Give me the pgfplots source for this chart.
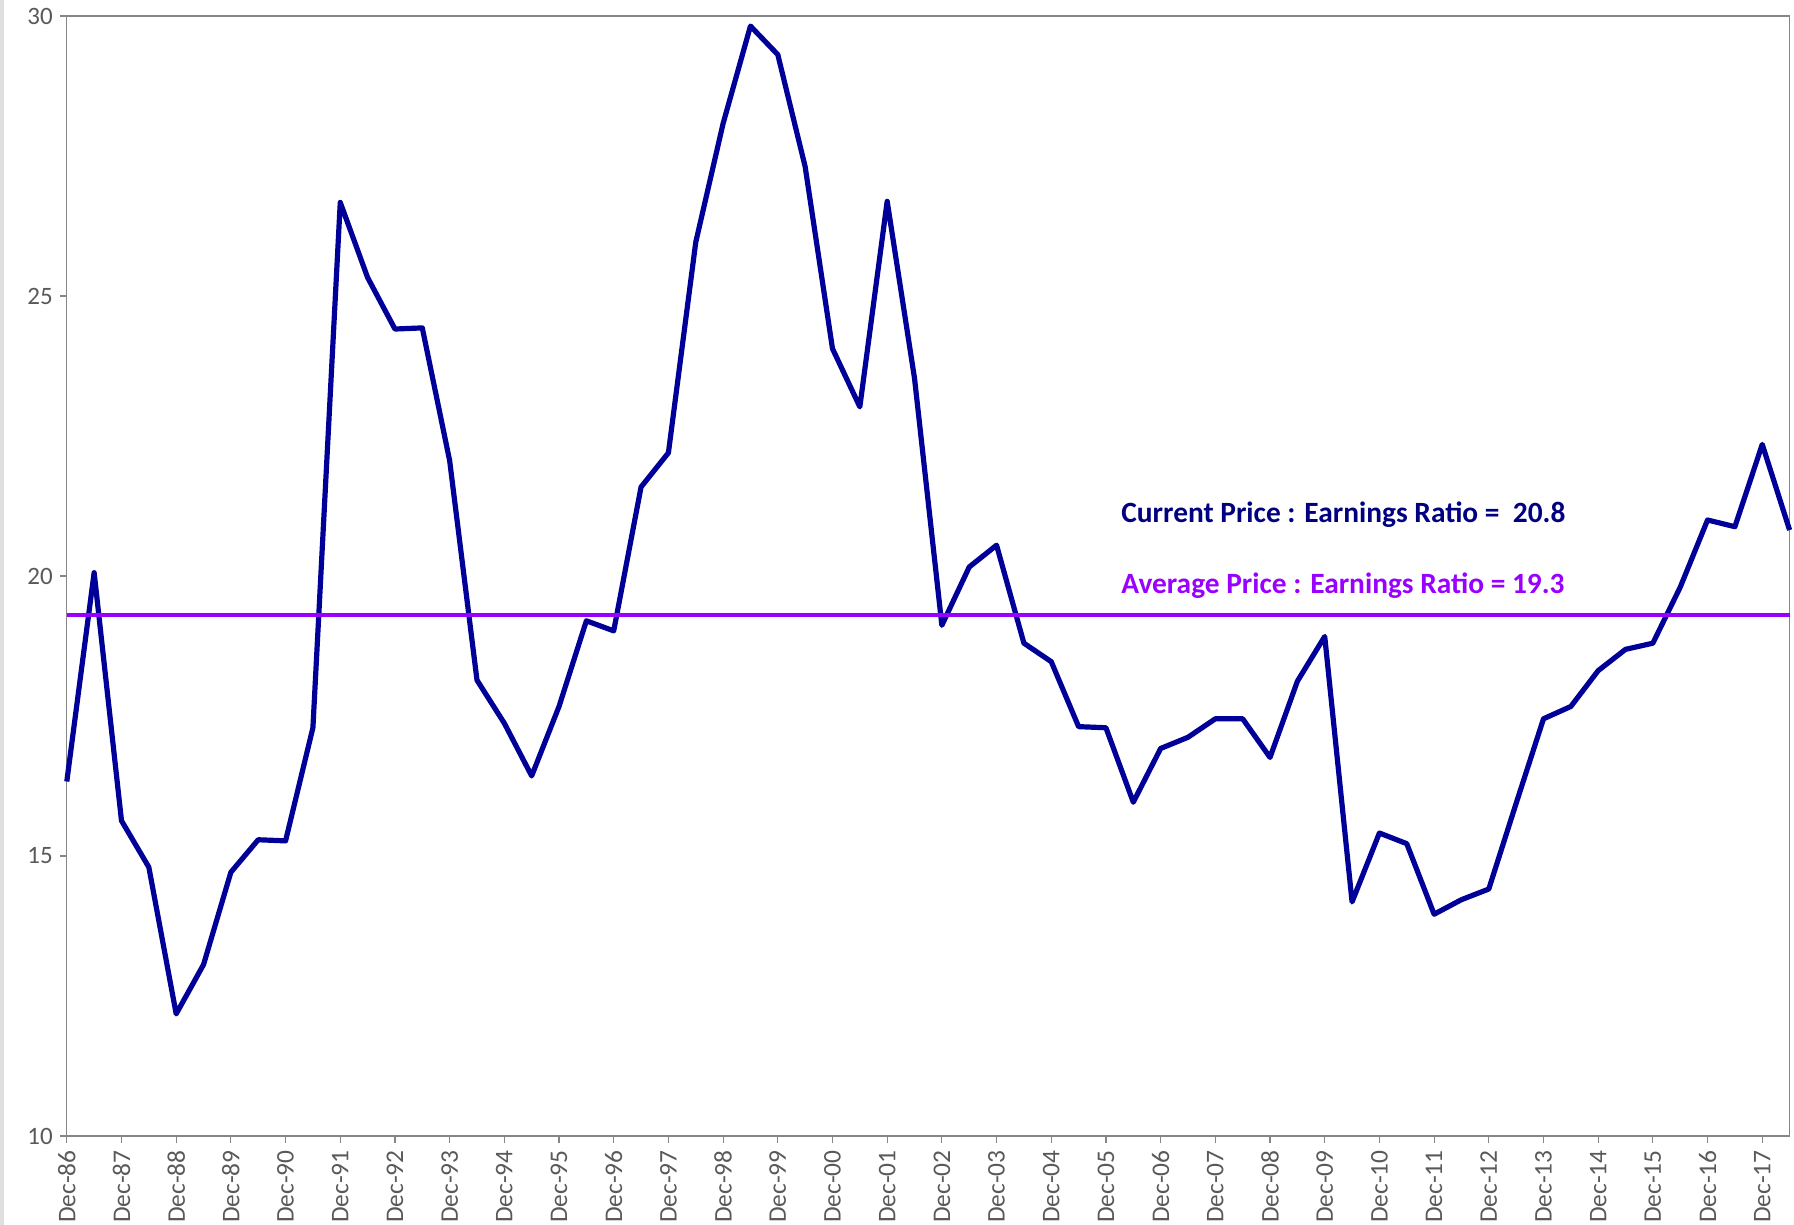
\documentclass[border=0pt]{standalone}
\usepackage{pgfplots}
\pgfplotsset{compat=1.18}
\usepackage{fontspec}
\setmainfont{Carlito}
\definecolor{pelin}{HTML}{000099}
\definecolor{avgln}{HTML}{9900FF}
\definecolor{curtx}{HTML}{000080}
\definecolor{axgray}{HTML}{868686}
\definecolor{lblgray}{HTML}{595959}
\begin{document}
\begin{tikzpicture}
\begin{axis}[
  at={(33.4pt,44.5pt)}, anchor=south west,
  scale only axis, width=861.4pt, height=560pt,
  xmin=0, xmax=63, ymin=10, ymax=30,
  xtick={0,2,...,62},
  xticklabels={Dec-86,Dec-87,Dec-88,Dec-89,Dec-90,Dec-91,Dec-92,Dec-93,Dec-94,Dec-95,Dec-96,Dec-97,Dec-98,Dec-99,Dec-00,Dec-01,Dec-02,Dec-03,Dec-04,Dec-05,Dec-06,Dec-07,Dec-08,Dec-09,Dec-10,Dec-11,Dec-12,Dec-13,Dec-14,Dec-15,Dec-16,Dec-17},
  ytick={10,15,20,25,30},
  xtick pos=left, ytick pos=left,
  tick align=outside, major tick length=3.5pt,
  axis line style={axgray, line width=0.6pt},
  every tick/.style={axgray, line width=0.6pt},
  x tick label style={rotate=90, anchor=east, font=\fontsize{12.7}{12.7}\selectfont, text=lblgray, inner sep=3.5pt},
  y tick label style={font=\fontsize{12.5}{12.5}\selectfont, text=lblgray},
  /pgf/number format/assume math mode=true,
  clip=false,
]
\addplot[pelin, line width=2.6pt, line join=round] coordinates {
(0,16.33) (1,20.06) (2,15.63) (3,14.80) (4,12.18) (5,13.06) (6,14.71) (7,15.29)
(8,15.27) (9,17.29) (10,26.67) (11,25.33) (12,24.41) (13,24.43) (14,22.06) (15,18.14)
(16,17.37) (17,16.43) (18,17.67) (19,19.20) (20,19.02) (21,21.59) (22,22.20) (23,25.96)
(24,28.08) (25,29.82) (26,29.31) (27,27.31) (28,24.06) (29,23.02) (30,26.69) (31,23.53)
(32,19.12) (33,20.16) (34,20.55) (35,18.80) (36,18.47) (37,17.31) (38,17.29) (39,15.96)
(40,16.92) (41,17.12) (42,17.45) (43,17.45) (44,16.76) (45,18.12) (46,18.92) (47,14.18)
(48,15.41) (49,15.22) (50,13.96) (51,14.22) (52,14.41) (53,15.94) (54,17.45) (55,17.67)
(56,18.31) (57,18.69) (58,18.80) (59,19.80) (60,21.00) (61,20.88) (62,22.35) (63,20.82)
};
\addplot[avgln, line width=2pt] coordinates {(0,19.31) (63,19.31)};
\node[anchor=west, text=curtx, font=\fontsize{14.7}{14.7}\selectfont\bfseries, inner sep=0pt] at (axis cs:38.55,21.1) {Current Price : Earnings Ratio =~~20.8};
\node[anchor=west, text=avgln, font=\fontsize{14.7}{14.7}\selectfont\bfseries, inner sep=0pt] at (axis cs:38.55,19.82) {Average Price : Earnings Ratio = 19.3};
\end{axis}
\pgfresetboundingbox
\fill[gray!25] (0,0) rectangle (2pt,612.5pt);
\path[use as bounding box] (0,0) rectangle (897pt,612.5pt);
\end{tikzpicture}
\end{document}
